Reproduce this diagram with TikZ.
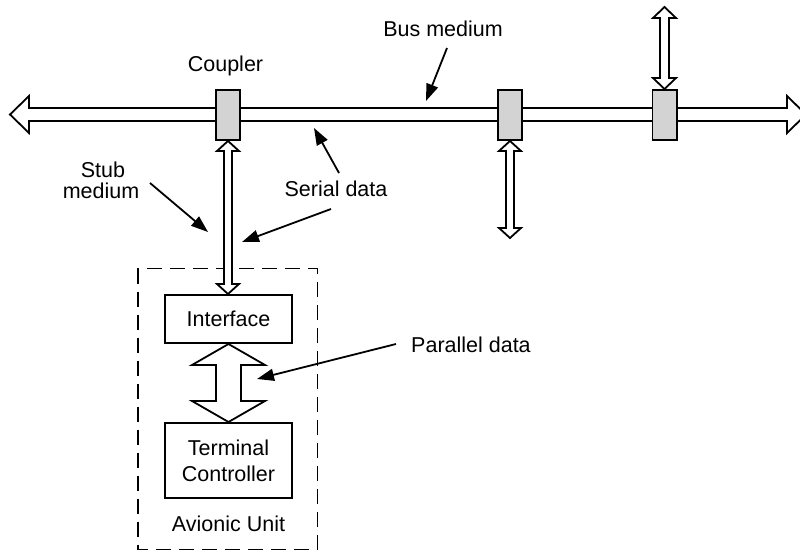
\documentclass[tikz,border=0pt]{standalone}
\usepackage{fontspec}
\setmainfont{Liberation Sans}
\usetikzlibrary{arrows.meta,calc}
\definecolor{cgray}{RGB}{211,211,211}
\newcommand\hdbl[5]{%
  \path[arrowshape] let \p1=#1, \p2=#2 in
   (\x1,\y1) -- (\x1+#5,\y1+#4) -- (\x1+#5,\y1+#3) -- (\x2-#5,\y1+#3) -- (\x2-#5,\y1+#4)
   -- (\x2,\y1) -- (\x2-#5,\y1-#4) -- (\x2-#5,\y1-#3) -- (\x1+#5,\y1-#3) -- (\x1+#5,\y1-#4) -- cycle;}
\newcommand\vdbl[5]{%
  \path[arrowshape] let \p1=#1, \p2=#2 in
   (\x1,\y1) -- (\x1+#4,\y1-#5) -- (\x1+#3,\y1-#5) -- (\x1+#3,\y2+#5) -- (\x1+#4,\y2+#5)
   -- (\x1,\y2) -- (\x1-#4,\y2+#5) -- (\x1-#3,\y2+#5) -- (\x1-#3,\y1-#5) -- (\x1-#4,\y1-#5) -- cycle;}
\tikzset{
  lbl/.style={font=\fontsize{21.5}{25}\selectfont, inner sep=0pt},
  coupler/.style={draw, line width=1.8pt, fill=cgray, minimum width=24.2pt, minimum height=50.2pt, inner sep=0pt},
  unitbox/.style={draw, line width=1.8pt, fill=white, minimum width=127.2pt, inner sep=0pt,
    align=center, font=\fontsize{21.5}{26}\selectfont},
  arrowshape/.style={draw, line width=1.8pt, fill=white, line join=miter},
  pointer/.style={line width=1.8pt, -{Triangle[length=17pt,width=12pt]}},
  unitframe/.style={draw, line width=1.8pt, dash pattern=on 15pt off 8pt},
}
\begin{document}
\begin{tikzpicture}[x=1pt,y=-1pt]
\useasboundingbox (0,0) rectangle (800,553);
\clip (0,0) rectangle (800,553);

% bus medium
\coordinate (busL) at (10,114.5);
\coordinate (busR) at (806,114.5);
\hdbl{(busL)}{(busR)}{6.5pt}{18.5pt}{19pt}

% couplers
\node[coupler] (c1) at (228,115) {};
\node[coupler] (c2) at (510,115) {};
\node[coupler] (c3) at (664.5,115) {};

% avionic unit
\draw[unitframe] (138,268.5) rectangle (317.5,549.5);
\node[unitbox, minimum height=48.2pt] (iface) at (228.5,319) {Interface};
\node[unitbox, minimum height=75.2pt] (tc) at (228.5,460.5) {Terminal\\Controller};
\node[lbl, anchor=base] (avu) at (228.5,531) {Avionic Unit};

% stubs
\coordinate (s2end) at (510,238);
\coordinate (s3end) at (664.5,7);
\vdbl{(c1.south)}{(iface.north)}{4pt}{11pt}{10pt}
\vdbl{(c2.south)}{(s2end)}{4pt}{11pt}{10pt}
\vdbl{(s3end)}{(c3.north)}{4.5pt}{11.5pt}{11pt}
\vdbl{(iface.south)}{(tc.north)}{12.5pt}{36.5pt}{21pt}

% labels
\node[lbl, anchor=base] (busmed) at (443,37) {Bus medium};
\node[lbl, anchor=base] (couplerlbl) at (225.5,72) {Coupler};
\node[lbl, anchor=base] (stub1) at (103,178) {Stub};
\node[lbl, anchor=base] (stub2) at (101,199) {medium};
\node[lbl, anchor=base] (serial) at (336,197) {Serial data};
\node[lbl, anchor=base west] (parallel) at (411,352) {Parallel data};

% pointers
\coordinate (bmA) at (447,48);  \coordinate (bmB) at (426,101);
\coordinate (sdA) at (339,173); \coordinate (sdB) at (314,128);
\coordinate (sdC) at (331,209); \coordinate (sdD) at (242,242);
\coordinate (smA) at (150,183); \coordinate (smB) at (208,232);
\coordinate (pdA) at (396,344); \coordinate (pdB) at (257,379);
\draw[pointer] (bmA) -- (bmB);
\draw[pointer] (sdA) -- (sdB);
\draw[pointer] (sdC) -- (sdD);
\draw[pointer] (smA) -- (smB);
\draw[pointer] (pdA) -- (pdB);
\end{tikzpicture}
\end{document}
